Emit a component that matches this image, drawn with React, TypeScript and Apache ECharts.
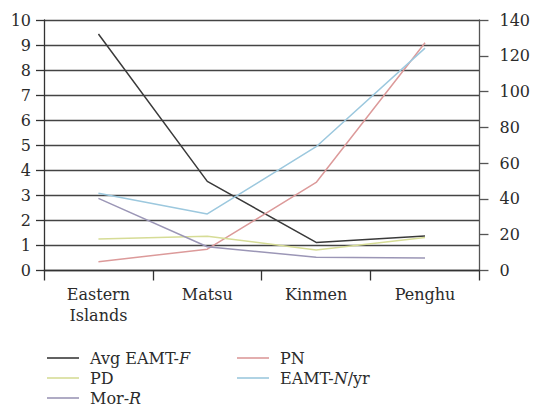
import React, { useEffect, useRef } from "react";
import * as echarts from "echarts";

const categories = ["Eastern\nIslands", "Matsu", "Kinmen", "Penghu"];
const avgEamtF = [9.44, 3.56, 1.12, 1.38];
const pn = [4.9, 11.9, 49.2, 127.3];
const pd = [1.26, 1.37, 0.82, 1.32];
const eamtN = [43.2, 31.6, 69.2, 124.3];
const morR = [2.88, 0.95, 0.53, 0.5];
const leftTicks = { min: 0, max: 10, interval: 1 };
const rightTicks = { min: 0, max: 140, interval: 20 };

const FONT = "DejaVu Serif";
const TXT = "#2b2b2b";
const FS = 16;

const richStyles = {
  s: { width: 6, fontFamily: FONT, fontSize: FS, lineHeight: 20 },
  n: { fontFamily: FONT, fontSize: FS, color: TXT, lineHeight: 20 },
  i: { fontFamily: FONT, fontSize: FS, color: TXT, fontStyle: "italic", lineHeight: 20 },
};

const legendLabel = (name: string) => {
  const m = name.match(/^(.*-)(\w)(\/yr)?$/);
  if (m) {
    return "{s|}{n|" + m[1] + "}{i|" + m[2] + "}" + (m[3] ? "{n|" + m[3] + "}" : "");
  }
  return "{s|}{n|" + name + "}";
};

export default function App() {
  const ref = useRef<HTMLDivElement>(null);
  useEffect(() => {
    if (!ref.current) return;
    const chart = echarts.init(ref.current, undefined, { renderer: "svg" });
    const legendBase = {
      orient: "vertical" as const,
      top: 348,
      padding: 0,
      height: 70,
      icon: "rect",
      itemWidth: 32,
      itemHeight: 1.6,
      itemGap: 0,
      formatter: legendLabel,
      textStyle: { fontFamily: FONT, fontSize: FS, color: TXT, lineHeight: 20, rich: richStyles },
    };
    chart.setOption({
      animation: false,
      backgroundColor: "#ffffff",
      textStyle: { fontFamily: FONT },
      grid: { left: 44, right: 49, top: 20, bottom: 145.5, containLabel: false },
      legend: [
        { ...legendBase, left: 47, data: ["Avg EAMT-F", "PD", "Mor-R"] },
        { ...legendBase, left: 237, data: ["PN", "EAMT-N/yr"] },
      ],
      xAxis: {
        type: "category",
        data: categories,
        boundaryGap: true,
        axisLine: { lineStyle: { color: "#333", width: 1.3 } },
        axisTick: { show: true, length: 10, lineStyle: { color: "#333", width: 1.3 } },
        axisLabel: {
          interval: 0,
          margin: 13,
          fontFamily: FONT,
          fontSize: FS,
          lineHeight: 21,
          color: TXT,
        },
      },
      yAxis: [
        {
          type: "value",
          ...leftTicks,
          position: "left",
          axisLine: { show: true, lineStyle: { color: "#333", width: 1.3 } },
          axisTick: { show: true, length: 8, lineStyle: { color: "#333", width: 1.3 } },
          splitLine: { show: true, lineStyle: { color: "#444", width: 1.3 } },
          axisLabel: { margin: 13, fontFamily: FONT, fontSize: FS, color: TXT },
        },
        {
          type: "value",
          ...rightTicks,
          position: "right",
          axisLine: { show: true, lineStyle: { color: "#555", width: 1.3 } },
          axisTick: { show: true, length: 9, lineStyle: { color: "#555", width: 1.3 } },
          splitLine: { show: false },
          axisLabel: { margin: 20, fontFamily: FONT, fontSize: FS, color: TXT },
        },
      ],
      series: [
        { name: "Avg EAMT-F", type: "line", yAxisIndex: 0, data: avgEamtF, color: "#3a3a3a" },
        { name: "PN", type: "line", yAxisIndex: 1, data: pn, color: "#dc9a9a" },
        { name: "PD", type: "line", yAxisIndex: 0, data: pd, color: "#d6dc96" },
        { name: "EAMT-N/yr", type: "line", yAxisIndex: 1, data: eamtN, color: "#9cc8de" },
        { name: "Mor-R", type: "line", yAxisIndex: 0, data: morR, color: "#9b96b6" },
      ].map((s) => ({
        ...s,
        showSymbol: false,
        symbol: "none",
        lineStyle: { width: 1.5, color: s.color },
        itemStyle: { color: s.color },
      })),
    });
    return () => chart.dispose();
  }, []);
  return (
    <div
      ref={ref}
      style={{ position: "fixed", left: 0, top: 0, width: 533, height: 416, background: "#fff" }}
    />
  );
}
